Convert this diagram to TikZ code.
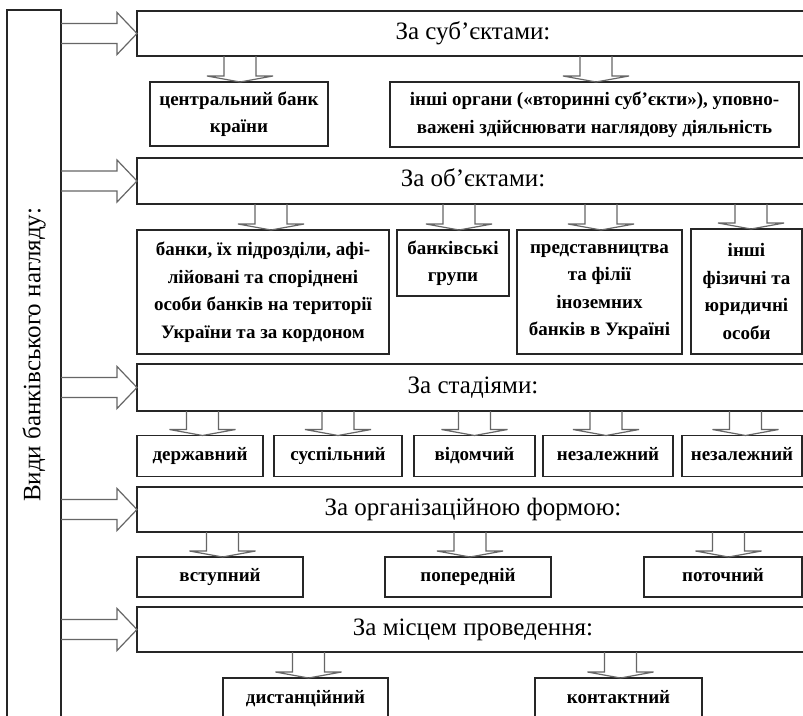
\documentclass[tikz,border=0pt]{standalone}
\usepackage{fontspec}
\setmainfont{Liberation Serif}
\usetikzlibrary{calc}
\newcommand\chfont{\fontsize{19}{27.5}\selectfont\bfseries}
\newcommand\hdfont{\fontsize{25}{28}\selectfont}
\newcommand\sidefont{\fontsize{25}{26}\selectfont}
% down block arrow: [x shift] parent child
\newcommand\darr[3][0pt]{%
  \draw[blk] let \p1=(#2.south), \p2=(#3.north) in
    (\x2+#1-16pt,\y1) -- (\x2+#1-16pt,\y2+6pt) -- (\x2+#1-33pt,\y2+6pt)
    -- (\x2+#1,\y2) -- (\x2+#1+33pt,\y2+6pt) -- (\x2+#1+16pt,\y2+6pt)
    -- (\x2+#1+16pt,\y1);}
% right block arrow: side header
\newcommand\harr[2]{%
  \draw[blk] let \p1=(#1.east), \p2=(#2.west) in
    (\x1,\y2+10pt) -- (\x2-20pt,\y2+10pt) -- (\x2-20pt,\y2+21pt)
    -- (\x2,\y2) -- (\x2-20pt,\y2-21pt) -- (\x2-20pt,\y2-10pt)
    -- (\x1,\y2-10pt);}
\begin{document}
\begin{tikzpicture}[x=1pt,y=-1pt,
  box/.style={draw=black!85, line width=1.3pt, outer sep=0pt, inner sep=0pt},
  hdr/.style={box, minimum width=672pt, font=\hdfont, text height=17pt, text depth=6pt},
  cbox/.style={box, align=center, font=\chfont},
  one/.style={box, font=\chfont, text height=13pt, text depth=5pt},
  blk/.style={draw=black!60, line width=1.2pt, line join=miter}]
\fill[white] (0,0) rectangle (803,715);
\useasboundingbox (0,0) rectangle (803,715);
\clip (0,0) rectangle (803,715);

% side box
\node[box, anchor=north west, minimum width=54pt, minimum height=720pt] (side) at (7,10) {};
\node[rotate=90, font=\sidefont, inner sep=0pt] (sidetext) at (34,355) {Види банківського нагляду:};

% headers
\node[hdr, minimum height=45pt] (h1) at (473,33.5) {За суб’єктами:};
\node[hdr, minimum height=46pt] (h2) at (473,181) {За об’єктами:};
\node[hdr, minimum height=47pt] (h3) at (473,387.5) {За стадіями:};
\node[hdr, minimum height=45pt] (h4) at (473,509.5) {За організаційною формою:};
\node[hdr, minimum height=45pt] (h5) at (473,629.5) {За місцем проведення:};

% row 1
\node[cbox, minimum width=178pt, minimum height=64pt] (c11) at (239,114) {центральний банк\\країни};
\node[cbox, minimum width=409pt, minimum height=65pt] (c12) at (594.5,114.5) {інші органи («вторинні суб’єкти»), уповно-\\важені здійснювати наглядову діяльність};

% row 2
\node[cbox, minimum width=252pt, minimum height=124pt] (c21) at (263,292) {банки, їх підрозділи, афі-\\лійовані та споріднені\\особи банків на території\\України та за кордоном};
\node[cbox, minimum width=112pt, minimum height=66pt] (c22) at (453,263) {банківські\\групи};
\node[cbox, minimum width=165pt, minimum height=124pt] (c23) at (599.5,292) {представництва\\та філії\\іноземних\\банків в Україні};
\node[cbox, minimum width=111pt, minimum height=125pt] (c24) at (746.5,291.5) {інші\\фізичні та\\юридичні\\особи};

% row 3
\node[one, minimum width=126pt, minimum height=41pt] (c31) at (200,456) {державний};
\node[one, minimum width=128pt, minimum height=41pt] (c32) at (338,456) {суспільний};
\node[one, minimum width=121pt, minimum height=41pt] (c33) at (474.5,456) {відомчий};
\node[one, minimum width=130pt, minimum height=41pt] (c34) at (608,456) {незалежний};
\node[one, minimum width=120pt, minimum height=41pt] (c35) at (742,456) {незалежний};

% row 4
\node[one, minimum width=166pt, minimum height=40pt] (c41) at (220,577) {вступний};
\node[one, minimum width=166pt, minimum height=40pt] (c42) at (468,577) {попередній};
\node[one, minimum width=158pt, minimum height=40pt] (c43) at (723,577) {поточний};

% row 5
\node[one, minimum width=165pt, minimum height=42pt] (c51) at (305.5,699) {дистанційний};
\node[one, minimum width=167pt, minimum height=42pt] (c52) at (618.5,699) {контактний};

% horizontal arrows
\harr{side}{h1}
\harr{side}{h2}
\harr{side}{h3}
\harr{side}{h4}
\harr{side}{h5}

% down arrows
\darr[1pt]{h1}{c11}
\darr[1.5pt]{h1}{c12}
\darr[8pt]{h2}{c21}
\darr[6pt]{h2}{c22}
\darr[1.5pt]{h2}{c23}
\darr[4.5pt]{h2}{c24}
\darr[2.5pt]{h3}{c31}
\darr{h3}{c32}
\darr{h3}{c33}
\darr[-2pt]{h3}{c34}
\darr[3.5pt]{h3}{c35}
\darr[2.5pt]{h4}{c41}
\darr[2pt]{h4}{c42}
\darr[5.5pt]{h4}{c43}
\darr[3pt]{h5}{c51}
\darr[2pt]{h5}{c52}
\end{tikzpicture}
\end{document}
